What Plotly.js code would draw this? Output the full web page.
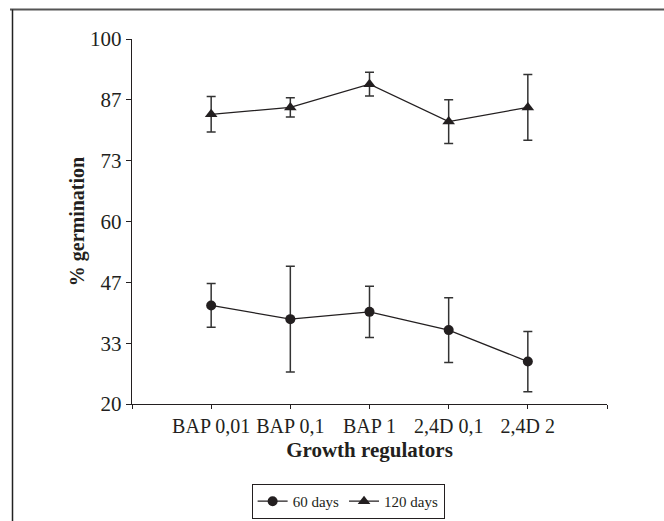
<!DOCTYPE html>
<html>
<head>
<meta charset="utf-8">
<script src="https://cdn.plot.ly/plotly-3.0.1.min.js"></script>
<style>
html,body{margin:0;padding:0;background:#fff;}
#chart{width:664px;height:521px;}
</style>
</head>
<body>
<div id="chart"></div>
<script>
var categories = ["BAP 0,01", "BAP 0,1", "BAP 1", "2,4D 0,1", "2,4D 2"];
var days60 = [41.6, 38.6, 40.2, 36.2, 29.3];
var days60Err = [4.8, 11.6, 5.6, 7.1, 6.6];
var days120 = [83.5, 85.0, 90.1, 81.9, 85.0];
var days120Err = [3.9, 2.1, 2.6, 4.8, 7.2];
var yTickVals = [20, 33.333, 46.667, 60, 73.333, 86.667, 100];
var yTickText = ["20", "33", "47", "60", "73", "87", "100"];

var ink = "#231f20";
var xIdx = categories.map(function(_, i){ return i; });

var traces = [
  {
    x: xIdx, y: days60, name: "60 days", type: "scatter", mode: "lines+markers",
    line: {color: ink, width: 1.2},
    marker: {symbol: "circle", size: 10, color: ink},
    error_y: {type: "data", array: days60Err, visible: true, color: "#333", thickness: 1.5, width: 4.5}
  },
  {
    x: xIdx, y: days120, name: "120 days", type: "scatter", mode: "lines+markers",
    line: {color: ink, width: 1.2},
    marker: {symbol: "triangle-up", size: 11, color: ink},
    error_y: {type: "data", array: days120Err, visible: true, color: "#333", thickness: 1.5, width: 4.5}
  }
];

var font = "Liberation Serif, Times New Roman, serif";
var layout = {
  width: 664, height: 521,
  margin: {l: 132, r: 57, t: 39, b: 117, autoexpand: false},
  paper_bgcolor: "#fff", plot_bgcolor: "#fff",
  font: {family: font, color: ink, size: 20},
  showlegend: true,
  legend: {
    orientation: "h", x: 0.455, xanchor: "center", y: -0.219, yanchor: "top",
    bordercolor: ink, borderwidth: 1, font: {size: 15, family: font, color: ink},
    itemwidth: 30, tracegroupgap: 0
  },
  xaxis: {
    range: [-1, 5], showgrid: false, zeroline: false, automargin: false,
    showline: true, linecolor: ink, linewidth: 1.2,
    tickmode: "array", tickvals: [-1, 0, 1, 2, 3, 4, 5],
    ticktext: [""].concat(categories).concat([""]),
    ticks: "outside", ticklen: 4, tickcolor: ink, tickwidth: 1,
    tickfont: {size: 20},
    title: {text: "<b>Growth regulators</b>", font: {size: 21}, standoff: 6}
  },
  yaxis: {
    range: [20, 100], showgrid: false, zeroline: false, automargin: false,
    showline: true, linecolor: ink, linewidth: 1.2,
    tickmode: "array", tickvals: yTickVals, ticktext: yTickText,
    ticks: "outside", ticklen: 5, tickcolor: ink, tickwidth: 1,
    tickfont: {size: 21},
    title: {text: "<b>% germination</b>", font: {size: 20}, standoff: 0}
  },
  shapes: [
    {type: "line", xref: "paper", yref: "paper",
     x0: (10 - 132) / 475, x1: (664 - 132) / 475, y0: (404 - 9.5) / 365, y1: (404 - 9.5) / 365,
     line: {color: "#555", width: 2}},
    {type: "line", xref: "paper", yref: "paper",
     x0: (12.5 - 132) / 475, x1: (12.5 - 132) / 475, y0: (404 - 9.5) / 365, y1: (404 - 521) / 365,
     line: {color: "#222", width: 1.5}}
  ]
};

Plotly.newPlot("chart", traces, layout, {displayModeBar: false, staticPlot: true});
</script>
</body>
</html>
